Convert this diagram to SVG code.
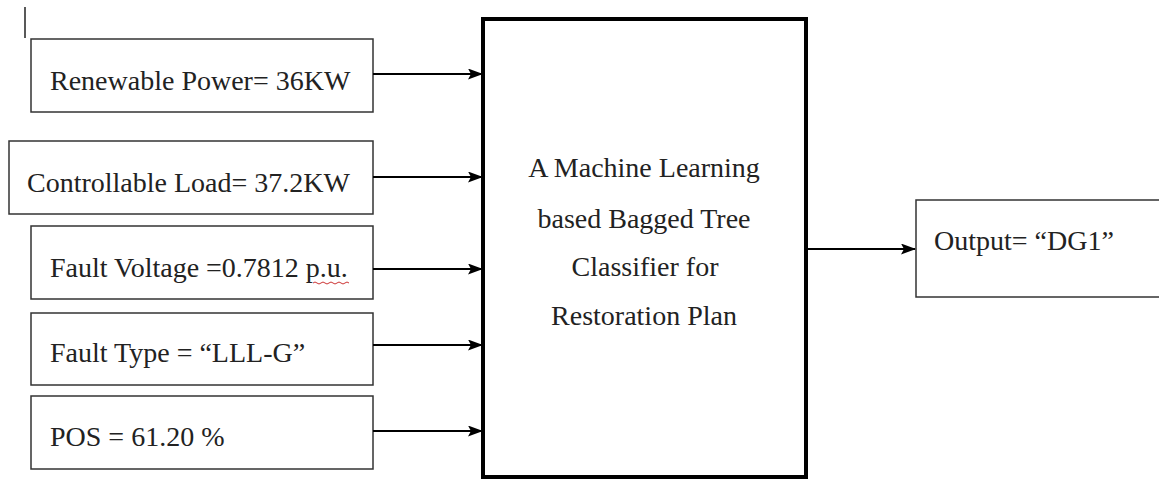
<svg xmlns="http://www.w3.org/2000/svg" width="1159" height="481" viewBox="0 0 1159 481">
<style>
.box{fill:#fff;stroke:#333;stroke-width:1.5}
.big{fill:#fff;stroke:#000;stroke-width:4}
.t{font-family:'Liberation Serif','Times New Roman',Tinos,'DejaVu Serif',serif;font-size:28px;fill:#222}
.c{text-anchor:middle}
.edge{stroke:#000;stroke-width:2.2;fill:none}
</style>
<defs>
<marker id="ah" markerWidth="15" markerHeight="11" refX="14" refY="5.5" orient="auto" markerUnits="userSpaceOnUse">
<path d="M0,0 L15,5.5 L0,11 L3,5.5 Z" fill="#000"/>
</marker>
</defs>
<rect width="1159" height="481" fill="#fff"/>
<line x1="25" y1="7" x2="25" y2="38" stroke="#222" stroke-width="1.5"/>
<g id="n1"><rect class="box" x="31" y="39" width="342" height="73"/><text class="t" font-family="Liberation Serif" x="50" y="90">Renewable Power= 36KW</text></g>
<g id="n2"><rect class="box" x="9" y="141" width="364" height="73"/><text class="t" font-family="Liberation Serif" x="27" y="192">Controllable Load= 37.2KW</text></g>
<g id="n3"><rect class="box" x="31" y="226" width="342" height="73"/><text class="t" font-family="Liberation Serif" x="50" y="277">Fault Voltage =0.7812 p.u.</text>
<path d="M313,283 q2,-2 4,0 t4,0 t4,0 t4,0 t4,0 t4,0 t4,0 t4,0 t4,0" fill="none" stroke="#c33" stroke-width="1"/></g>
<g id="n4"><rect class="box" x="31" y="313" width="342" height="72"/><text class="t" font-family="Liberation Serif" x="50" y="362">Fault Type = “LLL-G”</text></g>
<g id="n5"><rect class="box" x="31" y="396" width="342" height="73"/><text class="t" font-family="Liberation Serif" x="50" y="446">POS = 61.20 %</text></g>
<g id="clf"><rect class="big" x="483" y="19" width="323" height="458"/>
<text class="t c" font-family="Liberation Serif" x="644" y="177">A Machine Learning</text>
<text class="t c" font-family="Liberation Serif" x="644" y="228">based Bagged Tree</text>
<text class="t c" font-family="Liberation Serif" x="645" y="276">Classifier for</text>
<text class="t c" font-family="Liberation Serif" x="644" y="325">Restoration Plan</text></g>
<g id="out"><rect class="box" x="916" y="200" width="260" height="97"/><text class="t" font-family="Liberation Serif" x="934" y="250">Output= “DG1”</text></g>
<g id="edges">
<line class="edge" x1="373" y1="74" x2="482" y2="74" marker-end="url(#ah)"/>
<line class="edge" x1="373" y1="177" x2="482" y2="177" marker-end="url(#ah)"/>
<line class="edge" x1="373" y1="269" x2="482" y2="269" marker-end="url(#ah)"/>
<line class="edge" x1="373" y1="345" x2="482" y2="345" marker-end="url(#ah)"/>
<line class="edge" x1="373" y1="431" x2="482" y2="431" marker-end="url(#ah)"/>
<line class="edge" x1="808" y1="249" x2="915" y2="249" marker-end="url(#ah)"/>
</g>
</svg>
